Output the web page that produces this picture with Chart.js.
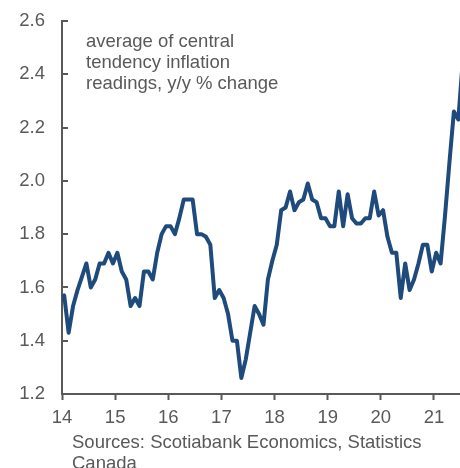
<!DOCTYPE html>
<html>
<head>
<meta charset="utf-8">
<script src="https://cdn.jsdelivr.net/npm/chart.js@4.4.0/dist/chart.umd.min.js"></script>
<style>
  html, body { margin: 0; padding: 0; background: #fff; }
  #wrap { width: 460px; height: 468px; }
</style>
</head>
<body>
<div id="wrap"><canvas id="inflationChart"></canvas></div>
<script>
// monthly readings, y/y % change
const dec2013 = [1.55];
const y2014 = [1.57, 1.43, 1.53, 1.59, 1.64, 1.69, 1.60, 1.63, 1.69, 1.69, 1.73, 1.69];
const y2015 = [1.73, 1.66, 1.63, 1.53, 1.56, 1.53, 1.66, 1.66, 1.63, 1.73, 1.80, 1.83];
const y2016 = [1.83, 1.80, 1.86, 1.93, 1.93, 1.93, 1.80, 1.80, 1.79, 1.76, 1.56, 1.59];
const y2017 = [1.56, 1.50, 1.40, 1.40, 1.26, 1.33, 1.43, 1.53, 1.50, 1.46, 1.63, 1.70];
const y2018 = [1.76, 1.89, 1.90, 1.96, 1.89, 1.92, 1.93, 1.99, 1.93, 1.92, 1.86, 1.86];
const y2019 = [1.83, 1.83, 1.96, 1.83, 1.95, 1.86, 1.84, 1.84, 1.86, 1.86, 1.96, 1.87];
const y2020 = [1.89, 1.79, 1.73, 1.73, 1.56, 1.69, 1.59, 1.63, 1.69, 1.76, 1.76, 1.66];
const y2021 = [1.73, 1.69, 1.87, 2.07, 2.26, 2.23, 2.45];

const yearTicks = [14, 15, 16, 17, 18, 19, 20, 21];
const yTicks = [1.2, 1.4, 1.6, 1.8, 2.0, 2.2, 2.4, 2.6];
const noteLines = ["average of central", "tendency inflation", "readings, y/y % change"];
const sourceLines = ["Sources: Scotiabank Economics, Statistics", "Canada"];

const GREY = "#595959";
const FONT = "'Liberation Sans', Arial, sans-serif";
const FSIZE = 18.5;

// points plotted mid-month, x in two-digit years
const points = [];
const addYear = (yr, vals, firstMonth) => {
  vals.forEach((v, i) => points.push({ x: yr + (firstMonth + i + 0.5) / 12, y: v }));
};
addYear(13, dec2013, 11);
[y2014, y2015, y2016, y2017, y2018, y2019, y2020, y2021].forEach((vals, i) => addYear(14 + i, vals, 0));

const extras = {
  id: "extras",
  afterDraw(chart) {
    const { ctx, chartArea, scales } = chart;
    ctx.save();
    // inward y tick marks
    ctx.strokeStyle = GREY;
    ctx.lineWidth = 2;
    yTicks.forEach((t) => {
      const py = Math.round(scales.y.getPixelForValue(t));
      ctx.beginPath();
      ctx.moveTo(chartArea.left, py);
      ctx.lineTo(chartArea.left + 6, py);
      ctx.stroke();
    });
    ctx.fillStyle = GREY;
    ctx.font = FSIZE + "px " + FONT;
    ctx.textBaseline = "middle";
    ctx.textAlign = "left";
    noteLines.forEach((s, i) => ctx.fillText(s, 86, 42 + i * 21));
    sourceLines.forEach((s, i) => ctx.fillText(s, 72, 443 + i * 21));
    ctx.restore();
  },
};

new Chart(document.getElementById("inflationChart"), {
  type: "line",
  data: {
    datasets: [
      {
        data: points,
        borderColor: "#1f4a7c",
        borderWidth: 4,
        pointRadius: 0,
        tension: 0,
        borderJoinStyle: "round",
        fill: false,
      },
    ],
  },
  options: {
    responsive: true,
    maintainAspectRatio: false,
    animation: false,
    layout: { padding: { top: 21, right: 0, bottom: 0, left: 0 } },
    plugins: { legend: { display: false }, tooltip: { enabled: false } },
    scales: {
      x: {
        type: "linear",
        min: 14,
        max: 21.49,
        afterBuildTicks: (scale) => {
          scale.ticks = yearTicks.map((v) => ({ value: v }));
        },
        afterFit: (scale) => {
          scale.height = 74;
        },
        ticks: {
          color: GREY,
          font: { family: FONT, size: FSIZE },
          padding: 7,
          maxRotation: 0,
          autoSkip: false,
          callback: (v) => String(v),
        },
        grid: {
          drawOnChartArea: false,
          drawTicks: true,
          tickLength: 6,
          tickWidth: 2,
          tickColor: GREY,
        },
        border: { display: true, color: GREY, width: 2 },
      },
      y: {
        min: 1.2,
        max: 2.6,
        afterBuildTicks: (scale) => {
          scale.ticks = yTicks.map((v) => ({ value: v }));
        },
        afterFit: (scale) => {
          scale.width = 62;
        },
        ticks: {
          color: GREY,
          font: { family: FONT, size: FSIZE },
          padding: 0,
          callback: (v) => Number(v).toFixed(1),
        },
        // invisible outer ticks just push the labels away from the axis
        grid: {
          drawOnChartArea: false,
          drawTicks: true,
          tickLength: 17,
          tickColor: "rgba(0,0,0,0)",
        },
        border: { display: true, color: GREY, width: 2 },
      },
    },
  },
  plugins: [extras],
});
</script>
</body>
</html>
